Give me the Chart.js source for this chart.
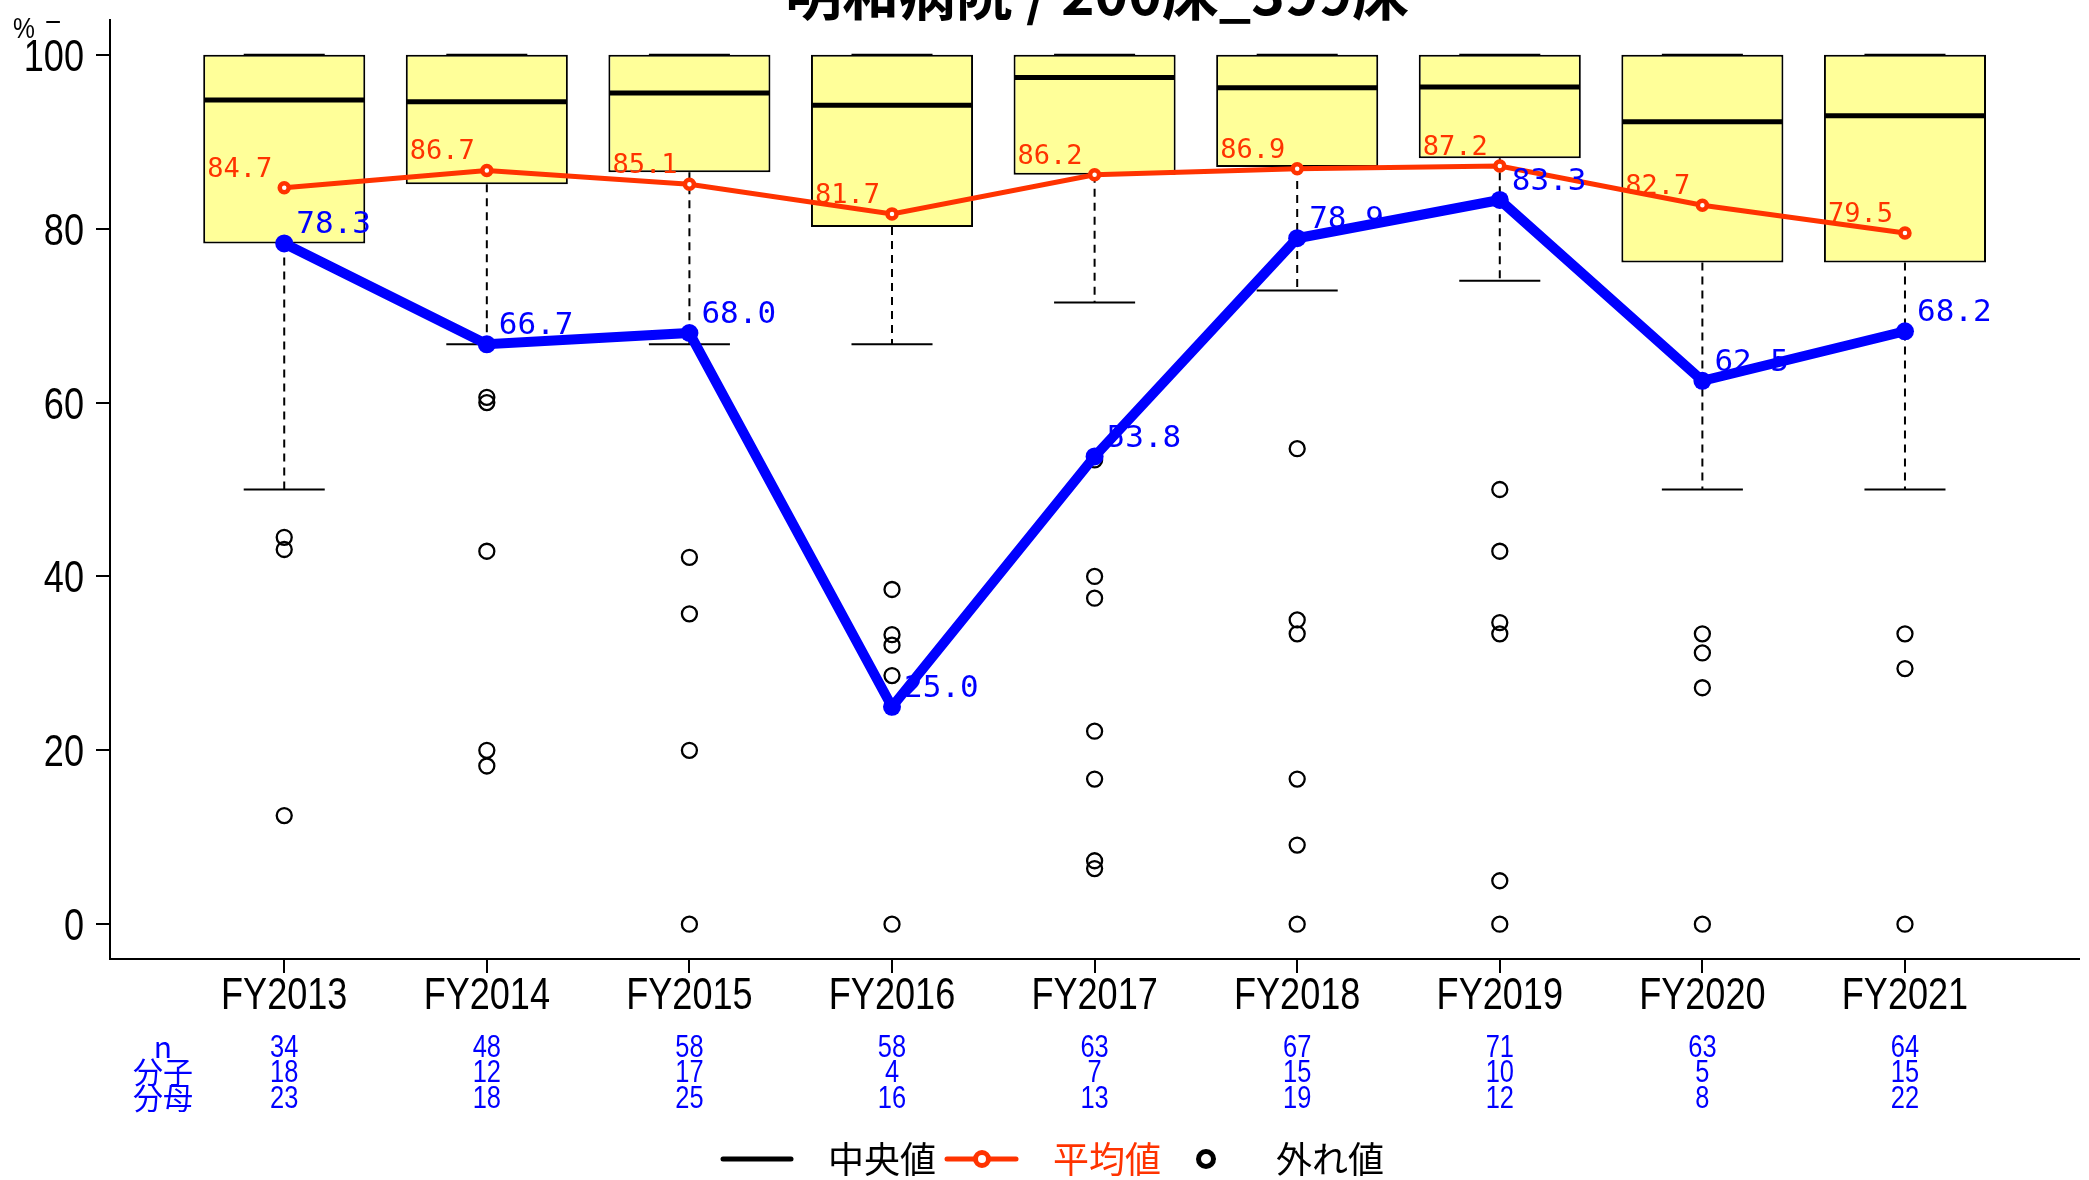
<!DOCTYPE html>
<html>
<head>
<meta charset="utf-8">
<script src="https://cdn.jsdelivr.net/npm/chart.js@4/dist/chart.umd.min.js"></script>
<style>
html,body{margin:0;padding:0;background:#fff;}
#wrap{width:2089px;height:1180px;position:relative;}
</style>
</head>
<body>
<div id="wrap"><canvas id="c" width="2089" height="1180"></canvas></div>
<script>
// ---- data ----
const titleText = '明和病院 / 200床_399床';
const categories = ['FY2013','FY2014','FY2015','FY2016','FY2017','FY2018','FY2019','FY2020','FY2021'];
const boxQ3 = [100, 100, 100, 100, 100, 100, 100, 100, 100];
const boxMedian = [94.8, 94.6, 95.6, 94.2, 97.4, 96.2, 96.3, 92.3, 93.0];
const boxQ1 = [78.3, 85.1, 86.5, 80.2, 86.2, 87.1, 88.1, 76.1, 76.1];
const whiskerHigh = [100, 100, 100, 100, 100, 100, 100, 100, 100];
const whiskerLow = [50.0, 66.7, 66.7, 66.7, 71.5, 72.9, 74.0, 50.0, 50.0];
const outliers = [
  [44.5, 43.1, 12.5],
  [60.6, 60.0, 42.9, 20.0, 18.2],
  [42.2, 35.7, 20.0, 0],
  [38.5, 33.3, 32.1, 28.6, 0],
  [53.4, 40.0, 37.5, 22.2, 16.7, 7.3, 6.4],
  [54.7, 35.0, 33.4, 16.7, 9.1, 0],
  [50.0, 42.9, 34.7, 33.4, 5.0, 0],
  [33.4, 31.2, 27.2, 0],
  [33.4, 29.4, 0]
];
const meanValues = [84.7, 86.7, 85.1, 81.7, 86.2, 86.9, 87.2, 82.7, 79.5];
const rateValues = [78.3, 66.7, 68.0, 25.0, 53.8, 78.9, 83.3, 62.5, 68.2];
const nValues = [34, 48, 58, 58, 63, 67, 71, 63, 64];
const numerators = [18, 12, 17, 4, 7, 15, 10, 5, 15];
const denominators = [23, 18, 25, 16, 13, 19, 12, 8, 22];
const tableRowLabels = ['n', '分子', '分母'];
const yTicks = [0, 20, 40, 60, 80, 100];
const legendLabels = ['中央値', '平均値', '外れ値'];

// ---- styles ----
const SANS = '"Liberation Sans", Arial, sans-serif';
const CJK = '"Noto Sans CJK JP", "Noto Sans", sans-serif';
const MONO = '"DejaVu Sans Mono", monospace';
const RED = '#ff3300';
const BLUE = '#0000ff';
const NARROW_K = 0.82;

function narrowText(ctx, text, px, py, align) {
  ctx.save();
  ctx.translate(px, py);
  ctx.scale(NARROW_K, 1);
  ctx.textAlign = align;
  ctx.fillText(text, 0, 0);
  ctx.restore();
}

const boxDetails = {
  id: 'boxDetails',
  afterDatasetDraw(chart, args) {
    if (args.index !== 0) return;
    const {ctx, scales: {x, y}} = chart;
    const meta = chart.getDatasetMeta(0);
    ctx.save();
    ctx.strokeStyle = '#000';
    categories.forEach((c, i) => {
      const cx = x.getPixelForValue(i + 1);
      const w = meta.data[i].width;
      ctx.lineWidth = 2;
      ctx.setLineDash([8, 6]);
      ctx.beginPath();
      ctx.moveTo(cx, y.getPixelForValue(boxQ1[i]));
      ctx.lineTo(cx, y.getPixelForValue(whiskerLow[i]));
      if (whiskerHigh[i] > boxQ3[i]) {
        ctx.moveTo(cx, y.getPixelForValue(boxQ3[i]));
        ctx.lineTo(cx, y.getPixelForValue(whiskerHigh[i]));
      }
      ctx.stroke();
      ctx.setLineDash([]);
      ctx.beginPath();
      [whiskerLow[i], whiskerHigh[i]].forEach(v => {
        const py = y.getPixelForValue(v);
        ctx.moveTo(cx - w / 4, py);
        ctx.lineTo(cx + w / 4, py);
      });
      ctx.stroke();
      ctx.lineWidth = 5;
      ctx.beginPath();
      const my = y.getPixelForValue(boxMedian[i]);
      ctx.moveTo(cx - w / 2 + 1, my);
      ctx.lineTo(cx + w / 2 - 1, my);
      ctx.stroke();
    });
    ctx.restore();
  }
};

const annotations = {
  id: 'annotations',
  afterDatasetsDraw(chart) {
    const {ctx, scales: {x, y}} = chart;
    ctx.save();
    ctx.textBaseline = 'middle';
    ctx.font = '27px ' + MONO;
    ctx.fillStyle = RED;
    ctx.textAlign = 'right';
    meanValues.forEach((v, i) => {
      ctx.fillText(v.toFixed(1), x.getPixelForValue(i + 1) - 12, y.getPixelForValue(v) - 18);
    });
    ctx.font = '31px ' + MONO;
    ctx.fillStyle = BLUE;
    ctx.textAlign = 'left';
    rateValues.forEach((v, i) => {
      ctx.fillText(v.toFixed(1), x.getPixelForValue(i + 1) + 12, y.getPixelForValue(v) - 18);
    });
    ctx.restore();
  },
  afterDraw(chart) {
    const {ctx, scales: {x, y}} = chart;
    ctx.save();
    ctx.fillStyle = '#000';
    ctx.textBaseline = 'alphabetic';
    // axis tick labels (narrow face, positioned from the library's scales)
    ctx.font = '44px ' + SANS;
    x.ticks.forEach(t => {
      narrowText(ctx, categories[Math.round(t.value) - 1], x.getPixelForValue(t.value), 1009, 'center');
    });
    y.ticks.forEach(t => {
      narrowText(ctx, String(t.value), 84, y.getPixelForValue(t.value) + 16, 'right');
    });
    // title (clipped at top)
    ctx.font = 'bold 57px ' + CJK;
    ctx.textAlign = 'center';
    ctx.fillText(titleText, 1097, 15);
    // % unit
    ctx.font = '30px ' + SANS;
    narrowText(ctx, '%', 24, 38, 'center');
    narrowText(ctx, '–', 53, 30, 'center');
    // table
    ctx.textBaseline = 'middle';
    ctx.fillStyle = BLUE;
    const rows = [nValues, numerators, denominators];
    const rowY = [1047, 1072, 1098];
    ctx.font = '30px ' + CJK;
    ctx.textAlign = 'center';
    tableRowLabels.forEach((t, r) => ctx.fillText(t, 163, rowY[r]));
    ctx.font = '31px ' + SANS;
    rows.forEach((arr, r) => {
      arr.forEach((v, i) => narrowText(ctx, String(v), x.getPixelForValue(i + 1), rowY[r] + 1, 'center'));
    });
    // legend
    const ly = 1159;
    ctx.lineCap = 'round';
    ctx.strokeStyle = '#000';
    ctx.lineWidth = 5;
    ctx.beginPath(); ctx.moveTo(723, ly); ctx.lineTo(791, ly); ctx.stroke();
    ctx.font = '36px ' + CJK;
    ctx.textAlign = 'left';
    ctx.fillStyle = '#000';
    ctx.fillText(legendLabels[0], 828, ly);
    ctx.strokeStyle = RED;
    ctx.beginPath(); ctx.moveTo(947, ly); ctx.lineTo(1016, ly); ctx.stroke();
    ctx.beginPath(); ctx.arc(982, ly, 6.5, 0, Math.PI * 2);
    ctx.fillStyle = '#fff'; ctx.fill(); ctx.lineWidth = 5; ctx.stroke();
    ctx.fillStyle = RED;
    ctx.fillText(legendLabels[1], 1053, ly);
    ctx.strokeStyle = '#000';
    ctx.lineWidth = 5;
    ctx.beginPath(); ctx.arc(1206, ly, 7.5, 0, Math.PI * 2); ctx.stroke();
    ctx.fillStyle = '#000';
    ctx.fillText(legendLabels[2], 1276, ly);
    ctx.restore();
  }
};

const outlierPoints = [];
outliers.forEach((arr, i) => arr.forEach(v => outlierPoints.push({x: i + 1, y: v})));

new Chart(document.getElementById('c'), {
  type: 'scatter',
  data: {
    datasets: [
      {
        type: 'bar',
        label: 'box',
        data: categories.map((c, i) => ({x: i + 1, y: [boxQ1[i], boxQ3[i]]})),
        backgroundColor: '#ffff99',
        borderColor: '#000',
        borderWidth: 2,
        borderSkipped: false,
        barPercentage: 0.8,
        categoryPercentage: 1.0,
        order: 10
      },
      {
        type: 'scatter',
        label: '外れ値',
        data: outlierPoints,
        pointStyle: 'circle',
        pointRadius: 7.5,
        borderWidth: 2.3,
        borderColor: '#000',
        backgroundColor: 'rgba(0,0,0,0)',
        order: 5
      },
      {
        type: 'line',
        label: '平均値',
        data: meanValues.map((v, i) => ({x: i + 1, y: v})),
        borderColor: RED,
        borderWidth: 5,
        pointRadius: 4.5,
        pointBorderWidth: 4.5,
        pointBackgroundColor: '#fff',
        pointBorderColor: RED,
        tension: 0,
        order: 2
      },
      {
        type: 'line',
        label: 'rate',
        data: rateValues.map((v, i) => ({x: i + 1, y: v})),
        borderColor: BLUE,
        borderWidth: 10,
        pointRadius: 9,
        pointBorderWidth: 0,
        pointBackgroundColor: BLUE,
        tension: 0,
        order: 1
      }
    ]
  },
  options: {
    responsive: false,
    animation: false,
    devicePixelRatio: 1,
    layout: {padding: {left: 0, right: 8, top: 20, bottom: 0}},
    plugins: {legend: {display: false}, tooltip: {enabled: false}, title: {display: false}},
    scales: {
      x: {
        type: 'linear',
        min: 0.14,
        max: 9.86,
        offset: false,
        afterBuildTicks: s => { s.ticks = categories.map((c, i) => ({value: i + 1})); },
        afterFit: s => { s.height = 221; s.paddingLeft = 0; s.paddingRight = 0; },
        ticks: {display: false, autoSkip: false, maxRotation: 0},
        grid: {display: true, offset: false, drawOnChartArea: false, drawTicks: true, tickLength: 14, color: '#000', lineWidth: 2},
        border: {display: true, color: '#000', width: 2}
      },
      y: {
        type: 'linear',
        min: -4,
        max: 104,
        afterBuildTicks: s => { s.ticks = yTicks.map(v => ({value: v})); },
        afterFit: s => { s.width = 110; s.paddingTop = 0; s.paddingBottom = 0; },
        ticks: {display: false},
        grid: {display: true, drawOnChartArea: false, drawTicks: true, tickLength: 14, color: '#000', lineWidth: 2},
        border: {display: true, color: '#000', width: 2}
      }
    }
  },
  plugins: [boxDetails, annotations]
});
</script>
</body>
</html>
